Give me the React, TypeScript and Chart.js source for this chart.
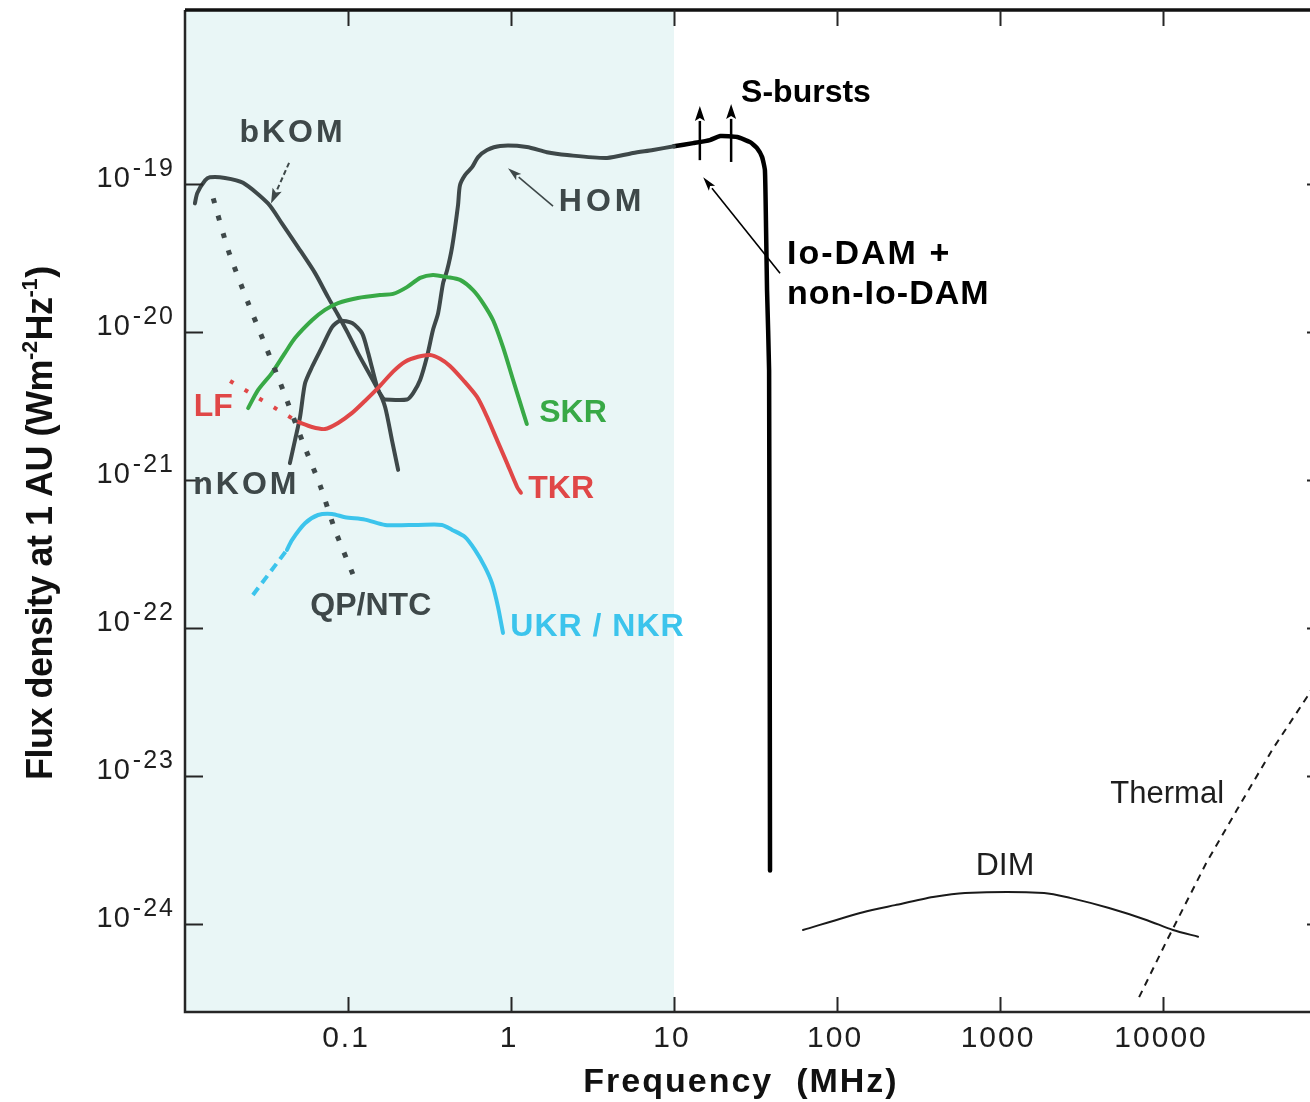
import { useEffect, useRef } from "react";
import { Chart, registerables } from "chart.js";

Chart.register(...registerables);

// ---------- axis ranges & ticks ----------
const xMin = 0.01;
const xMax = 94400;
const yMin = 2.54e-25;
const yMax = 1.5e-18;
const shadeRange = [0.01, 10];

const xTickValues = [0.1, 1, 10, 100, 1000, 10000];
const xTickLabels = ["0.1", "1", "10", "100", "1000", "10000"];
const yTickValues = [1e-19, 1e-20, 1e-21, 1e-22, 1e-23, 1e-24];
const yTickExponents = ["-19", "-20", "-21", "-22", "-23", "-24"];

// ---------- series (frequency in MHz, flux in W m^-2 Hz^-1) ----------
const bkomFreq = [0.0115, 0.0119, 0.0133, 0.0142, 0.0176, 0.0227, 0.0323, 0.0394, 0.0493, 0.0628, 0.0754, 0.0857, 0.1, 0.115, 0.153, 0.169, 0.186, 0.203];
const bkomFlux = [7.4e-20, 8.7e-20, 1.06e-19, 1.11e-19, 1.1e-19, 1.02e-19, 7.4e-20, 5.4e-20, 3.75e-20, 2.5e-20, 1.72e-20, 1.34e-20, 9.8e-21, 7.2e-21, 4.06e-21, 3.1e-21, 1.86e-21, 1.17e-21];

const nkomFreq = [0.044, 0.0473, 0.0508, 0.0545, 0.0601, 0.0692, 0.0798, 0.0893, 0.106, 0.122, 0.133, 0.14, 0.153, 0.166];
const nkomFlux = [1.3e-21, 1.86e-21, 2.67e-21, 4.5e-21, 5.8e-21, 7.9e-21, 1.08e-20, 1.19e-20, 1.15e-20, 9.8e-21, 7.2e-21, 5.8e-21, 4.06e-21, 3.5e-21];

const homFreq = [0.166, 0.23, 0.251, 0.277, 0.305, 0.332, 0.357, 0.383, 0.405, 0.435, 0.473, 0.486, 0.522, 0.577, 0.628, 0.713, 0.857, 1.25, 1.66, 2.21, 3.88, 5.6, 7.43, 10];
const homFlux = [3.5e-21, 3.5e-21, 3.87e-21, 4.74e-21, 6.8e-21, 1.03e-20, 1.34e-20, 2.14e-20, 2.6e-20, 3.75e-20, 7.2e-20, 9.8e-20, 1.15e-19, 1.3e-19, 1.52e-19, 1.7e-19, 1.81e-19, 1.78e-19, 1.64e-19, 1.57e-19, 1.5e-19, 1.62e-19, 1.7e-19, 1.8e-19];

const damFreq = [10, 13.1, 16.6, 19.2, 24.4, 29.3, 32.3, 34.7, 36.1, 36.7, 37.2, 38.3, 38.8];
const damFlux = [1.8e-19, 1.89e-19, 1.98e-19, 2.11e-19, 2.08e-19, 1.92e-19, 1.75e-19, 1.52e-19, 1.24e-19, 4.9e-20, 1.92e-20, 5.5e-21, 2.3e-24];

const skrFreq = [0.0244, 0.0281, 0.0342, 0.041, 0.0473, 0.0601, 0.0722, 0.0869, 0.115, 0.157, 0.189, 0.23, 0.277, 0.332, 0.405, 0.487, 0.585, 0.673, 0.776, 0.893, 1.03, 1.14, 1.25];
const skrFlux = [3.06e-21, 4.06e-21, 5.3e-21, 7.2e-21, 9.1e-21, 1.2e-20, 1.41e-20, 1.57e-20, 1.7e-20, 1.78e-20, 1.81e-20, 2.01e-20, 2.32e-20, 2.43e-20, 2.35e-20, 2.25e-20, 1.92e-20, 1.57e-20, 1.2e-20, 7.9e-21, 4.74e-21, 3.31e-21, 2.39e-21];

const tkrFreq = [0.0493, 0.0601, 0.0722, 0.0869, 0.106, 0.127, 0.153, 0.189, 0.224, 0.269, 0.319, 0.367, 0.422, 0.508, 0.619, 0.713, 0.821, 0.945, 1.09, 1.15];
const tkrFlux = [2.47e-21, 2.28e-21, 2.21e-21, 2.43e-21, 2.84e-21, 3.42e-21, 4.19e-21, 5.4e-21, 6.3e-21, 6.8e-21, 7.0e-21, 6.6e-21, 5.9e-21, 4.74e-21, 3.64e-21, 2.67e-21, 1.86e-21, 1.3e-21, 8.97e-22, 8.2e-22];

const lfFreq = [0.0189, 0.0493];
const lfFlux = [4.67e-21, 2.47e-21];

const ukrLowFreq = [0.0261, 0.0422];
const ukrLowFlux = [1.67e-22, 3.37e-22];
const ukrFreq = [0.0422, 0.0453, 0.0545, 0.0655, 0.0798, 0.0959, 0.127, 0.169, 0.269, 0.377, 0.435, 0.522, 0.601, 0.692, 0.764, 0.832, 0.893];
const ukrFlux = [3.37e-22, 3.93e-22, 5.1e-22, 5.8e-22, 5.9e-22, 5.6e-22, 5.4e-22, 4.97e-22, 4.97e-22, 4.97e-22, 4.6e-22, 4.12e-22, 3.37e-22, 2.58e-22, 2.01e-22, 1.39e-22, 9.25e-23];

const qpFreq = [0.0149, 0.0184, 0.0244, 0.031, 0.0399, 0.053, 0.0674, 0.0832, 0.114];
const qpFlux = [8.0e-20, 3.58e-20, 1.57e-20, 8.2e-21, 4.06e-21, 1.78e-21, 9.2e-22, 4.6e-22, 1.95e-22];

const dimFreq = [61.8, 144.5, 227, 388, 610, 1862, 2690, 4660, 7980, 11500, 16400];
const dimFlux = [9.1e-25, 1.2e-24, 1.34e-24, 1.52e-24, 1.62e-24, 1.62e-24, 1.5e-24, 1.28e-24, 1.06e-24, 9.1e-25, 8.2e-25];

const thermalFreq = [7130, 10600, 18400, 28400, 46700, 76400, 82000];
const thermalFlux = [3.2e-25, 7.8e-25, 2.58e-24, 5.9e-24, 1.5e-23, 3.42e-23, 3.9e-23];

// ---------- styles ----------
const GRAY = "#3e4849";
const GREEN = "#38a946";
const RED = "#e04747";
const CYAN = "#3cc4ec";
const BLACK = "#000000";
const SHADE = "#e9f6f6";
const AXIS = "#262626";
const FONT = "'Liberation Sans', Arial, Helvetica, sans-serif";

// ---------- annotations (anchored in data coordinates) ----------
type Label = { text: string; f: number; s: number; font: string; color: string; align: CanvasTextAlign; ls?: number };
const labels: Label[] = [
  { text: "bKOM", f: 0.0447, s: 2.21e-19, font: `bold 32px ${FONT}`, color: GRAY, align: "center", ls: 3 },
  { text: "HOM", f: 3.52, s: 7.56e-20, font: `bold 32px ${FONT}`, color: GRAY, align: "center", ls: 4 },
  { text: "S-bursts", f: 64.5, s: 4.12e-19, font: `bold 32px ${FONT}`, color: BLACK, align: "center", ls: 0 },
  { text: "Io-DAM +", f: 49.3, s: 3.31e-20, font: `bold 34px ${FONT}`, color: BLACK, align: "left", ls: 2 },
  { text: "non-Io-DAM", f: 49.3, s: 1.78e-20, font: `bold 34px ${FONT}`, color: BLACK, align: "left", ls: 1 },
  { text: "LF", f: 0.0149, s: 3.11e-21, font: `bold 32px ${FONT}`, color: RED, align: "center", ls: 0 },
  { text: "SKR", f: 2.4, s: 2.84e-21, font: `bold 32px ${FONT}`, color: GREEN, align: "center", ls: 0 },
  { text: "TKR", f: 2.03, s: 8.7e-22, font: `bold 32px ${FONT}`, color: RED, align: "center", ls: 0 },
  { text: "UKR / NKR", f: 3.37, s: 1.02e-22, font: `bold 32px ${FONT}`, color: CYAN, align: "center", ls: 1 },
  { text: "nKOM", f: 0.0233, s: 9.25e-22, font: `bold 32px ${FONT}`, color: GRAY, align: "center", ls: 3 },
  { text: "QP/NTC", f: 0.138, s: 1.41e-22, font: `bold 32px ${FONT}`, color: GRAY, align: "center", ls: 0 },
  { text: "DIM", f: 1073, s: 2.47e-24, font: `32px ${FONT}`, color: "#1e1e1e", align: "center", ls: 0 },
  { text: "Thermal", f: 10600, s: 7.45e-24, font: `31px ${FONT}`, color: "#1e1e1e", align: "center", ls: 0 },
];

type Arrow = { f1: number; s1: number; f2: number; s2: number; color: string; width: number; head: number; headW: number; dash?: number[] };
const arrows: Arrow[] = [
  { f1: 0.0435, s1: 1.39e-19, f2: 0.0337, s2: 7.4e-20, color: GRAY, width: 2, head: 15, headW: 10, dash: [5, 3] },
  { f1: 1.81, s1: 7.1e-20, f2: 0.958, s2: 1.28e-19, color: GRAY, width: 1.6, head: 14, headW: 8 },
  { f1: 44.7, s1: 2.5e-20, f2: 15.1, s2: 1.11e-19, color: BLACK, width: 1.6, head: 14, headW: 8 },
  { f1: 14.4, s1: 1.45e-19, f2: 14.4, s2: 3.37e-19, color: BLACK, width: 2.5, head: 15, headW: 10 },
  { f1: 22.4, s1: 1.41e-19, f2: 22.4, s2: 3.48e-19, color: BLACK, width: 2.5, head: 15, headW: 10 },
];

function pts(fs: number[], ss: number[]) {
  return fs.map((f, i) => ({ x: f, y: ss[i] }));
}

function drawText(ctx: CanvasRenderingContext2D, text: string, x: number, y: number, font: string, color: string, align: CanvasTextAlign, ls = 0) {
  ctx.save();
  ctx.font = font;
  ctx.fillStyle = color;
  ctx.textBaseline = "middle";
  (ctx as any).letterSpacing = `${ls}px`;
  const w = ctx.measureText(text).width;
  let sx = x;
  if (align === "center") sx = x - (w - ls) / 2;
  else if (align === "right") sx = x - (w - ls);
  ctx.textAlign = "left";
  ctx.fillText(text, sx, y);
  ctx.restore();
}

function drawArrow(ctx: CanvasRenderingContext2D, x1: number, y1: number, x2: number, y2: number, a: Arrow) {
  const ang = Math.atan2(y2 - y1, x2 - x1);
  const bx = x2 - a.head * Math.cos(ang);
  const by = y2 - a.head * Math.sin(ang);
  ctx.save();
  ctx.strokeStyle = a.color;
  ctx.lineWidth = a.width;
  ctx.setLineDash(a.dash || []);
  ctx.beginPath();
  ctx.moveTo(x1, y1);
  ctx.lineTo(bx, by);
  ctx.stroke();
  ctx.setLineDash([]);
  ctx.fillStyle = a.color;
  ctx.beginPath();
  ctx.moveTo(x2, y2);
  ctx.lineTo(bx + (a.headW / 2) * Math.sin(ang), by - (a.headW / 2) * Math.cos(ang));
  ctx.lineTo(bx + 3 * Math.cos(ang), by + 3 * Math.sin(ang));
  ctx.lineTo(bx - (a.headW / 2) * Math.sin(ang), by + (a.headW / 2) * Math.cos(ang));
  ctx.closePath();
  ctx.fill();
  ctx.restore();
}

const framePlugin = {
  id: "frame",
  beforeDatasetsDraw(chart: any) {
    const { ctx, chartArea, scales } = chart;
    const x0 = scales.x.getPixelForValue(shadeRange[0]);
    const x1 = scales.x.getPixelForValue(shadeRange[1]);
    ctx.save();
    ctx.fillStyle = SHADE;
    ctx.fillRect(x0, chartArea.top, x1 - x0, chartArea.bottom - chartArea.top);
    ctx.restore();
  },
  afterDraw(chart: any) {
    const { ctx, chartArea } = chart;
    const xs = chart.scales.x;
    const ys = chart.scales.y;
    const { left, right, top, bottom } = chartArea;

    // axes frame
    ctx.save();
    ctx.strokeStyle = AXIS;
    ctx.lineWidth = 2.5;
    ctx.beginPath();
    ctx.moveTo(left, top);
    ctx.lineTo(left, bottom);
    ctx.lineTo(right, bottom);
    ctx.lineTo(right, top);
    ctx.stroke();
    ctx.lineWidth = 3.5;
    ctx.strokeStyle = "#111";
    ctx.beginPath();
    ctx.moveTo(left, top);
    ctx.lineTo(right, top);
    ctx.stroke();

    // ticks
    ctx.lineWidth = 2;
    ctx.strokeStyle = AXIS;
    xTickValues.forEach((v) => {
      const px = Math.round(xs.getPixelForValue(v)) + 0.5;
      ctx.beginPath();
      ctx.moveTo(px, bottom);
      ctx.lineTo(px, bottom - 15);
      ctx.moveTo(px, top);
      ctx.lineTo(px, top + 16);
      ctx.stroke();
    });
    yTickValues.forEach((v) => {
      const py = Math.round(ys.getPixelForValue(v)) + 0.5;
      ctx.beginPath();
      ctx.moveTo(left, py);
      ctx.lineTo(left + 18, py);
      ctx.moveTo(right, py);
      ctx.lineTo(right - 15, py);
      ctx.stroke();
    });
    ctx.restore();

    // x tick labels
    xTickValues.forEach((v, i) => {
      const px = xs.getPixelForValue(v);
      ctx.save();
      ctx.font = `30px ${FONT}`;
      ctx.fillStyle = "#1e1e1e";
      (ctx as any).letterSpacing = "2px";
      const w = ctx.measureText(xTickLabels[i]).width - 2;
      ctx.textBaseline = "alphabetic";
      ctx.textAlign = "left";
      ctx.fillText(xTickLabels[i], px - w / 2 - 3, bottom + 35);
      ctx.restore();
    });

    // y tick labels with superscripts
    yTickValues.forEach((v, i) => {
      const py = ys.getPixelForValue(v);
      ctx.save();
      ctx.fillStyle = "#1e1e1e";
      ctx.textBaseline = "alphabetic";
      ctx.textAlign = "left";
      ctx.font = `25px ${FONT}`;
      (ctx as any).letterSpacing = "2px";
      const we = ctx.measureText(yTickExponents[i]).width;
      ctx.font = `29px ${FONT}`;
      (ctx as any).letterSpacing = "1px";
      const wb = ctx.measureText("10").width;
      const rightEdge = left - 10;
      ctx.fillText("10", rightEdge - we - wb - 2, py + 3);
      ctx.font = `25px ${FONT}`;
      (ctx as any).letterSpacing = "2px";
      ctx.fillText(yTickExponents[i], rightEdge - we, py - 8);
      ctx.restore();
    });

    // x axis title
    ctx.save();
    ctx.font = `bold 34px ${FONT}`;
    (ctx as any).letterSpacing = "2px";
    ctx.fillStyle = "#111";
    ctx.textBaseline = "alphabetic";
    ctx.textAlign = "left";
    const xt = "Frequency  (MHz)";
    const xtw = ctx.measureText(xt).width;
    ctx.fillText(xt, 741 - xtw / 2, bottom + 80);
    ctx.restore();

    // y axis title (rotated, with superscripts)
    ctx.save();
    ctx.translate(52, 780);
    ctx.rotate(-Math.PI / 2);
    ctx.fillStyle = "#111";
    ctx.textBaseline = "alphabetic";
    ctx.textAlign = "left";
    (ctx as any).letterSpacing = "-0.5px";
    const parts: [string, boolean][] = [["Flux density at 1 AU (Wm", false], ["-2", true], ["Hz", false], ["-1", true], [")", false]];
    let cx = 0;
    parts.forEach(([t, sup]) => {
      ctx.font = sup ? `bold 22px ${FONT}` : `bold 36px ${FONT}`;
      ctx.fillText(t, cx, sup ? -15 : 0);
      cx += ctx.measureText(t).width + (sup ? 1 : 0);
    });
    ctx.restore();

    // arrows
    arrows.forEach((a) => {
      drawArrow(ctx, xs.getPixelForValue(a.f1), ys.getPixelForValue(a.s1), xs.getPixelForValue(a.f2), ys.getPixelForValue(a.s2), a);
    });

    // labels
    labels.forEach((l) => {
      drawText(ctx, l.text, xs.getPixelForValue(l.f), ys.getPixelForValue(l.s), l.font, l.color, l.align, l.ls || 0);
    });
  },
};

export default function App() {
  const canvasRef = useRef<HTMLCanvasElement | null>(null);

  useEffect(() => {
    const canvas = canvasRef.current;
    if (!canvas) return;
    const line = (data: any[], color: string, width: number, extra: any = {}) => ({
      data,
      borderColor: color,
      borderWidth: width,
      pointRadius: 0,
      tension: 0.25,
      fill: false,
      borderCapStyle: "round",
      borderJoinStyle: "round",
      ...extra,
    });
    const chart = new Chart(canvas, {
      type: "line",
      data: {
        datasets: [
          line(pts(qpFreq, qpFlux), GRAY, 5, { borderDash: [5, 13], borderCapStyle: "butt", tension: 0.2 }),
          line(pts(lfFreq, lfFlux), RED, 4, { borderDash: [4, 13], borderCapStyle: "butt", tension: 0 }),
          line(pts(ukrLowFreq, ukrLowFlux), CYAN, 4, { borderDash: [9, 6], borderCapStyle: "butt", tension: 0 }),
          line(pts(ukrFreq, ukrFlux), CYAN, 4),
          line(pts(skrFreq, skrFlux), GREEN, 4),
          line(pts(tkrFreq, tkrFlux), RED, 4),
          line(pts(nkomFreq, nkomFlux), GRAY, 4),
          line(pts(bkomFreq, bkomFlux), GRAY, 4),
          line(pts(homFreq, homFlux), GRAY, 4),
          line(pts(damFreq, damFlux), BLACK, 4.5, { tension: 0.15 }),
          line(pts(dimFreq, dimFlux), "#1a1a1a", 2),
          line(pts(thermalFreq, thermalFlux), "#1a1a1a", 2, { borderDash: [7, 6], borderCapStyle: "butt", tension: 0 }),
        ],
      },
      options: {
        animation: false,
        responsive: false,
        maintainAspectRatio: false,
        devicePixelRatio: 1,
        layout: { padding: { left: 185, right: 8, top: 10, bottom: 90 } },
        plugins: { legend: { display: false }, tooltip: { enabled: false } },
        scales: {
          x: { type: "logarithmic", min: xMin, max: xMax, display: false },
          y: { type: "logarithmic", min: yMin, max: yMax, display: false },
        },
      },
      plugins: [framePlugin],
    } as any);
    return () => chart.destroy();
  }, []);

  return (
    <div style={{ position: "fixed", left: 0, top: 0, width: 1310, height: 1102, overflow: "hidden", background: "#fff" }}>
      <canvas ref={canvasRef} width={1330} height={1102} style={{ width: 1330, height: 1102, display: "block" }} />
    </div>
  );
}
